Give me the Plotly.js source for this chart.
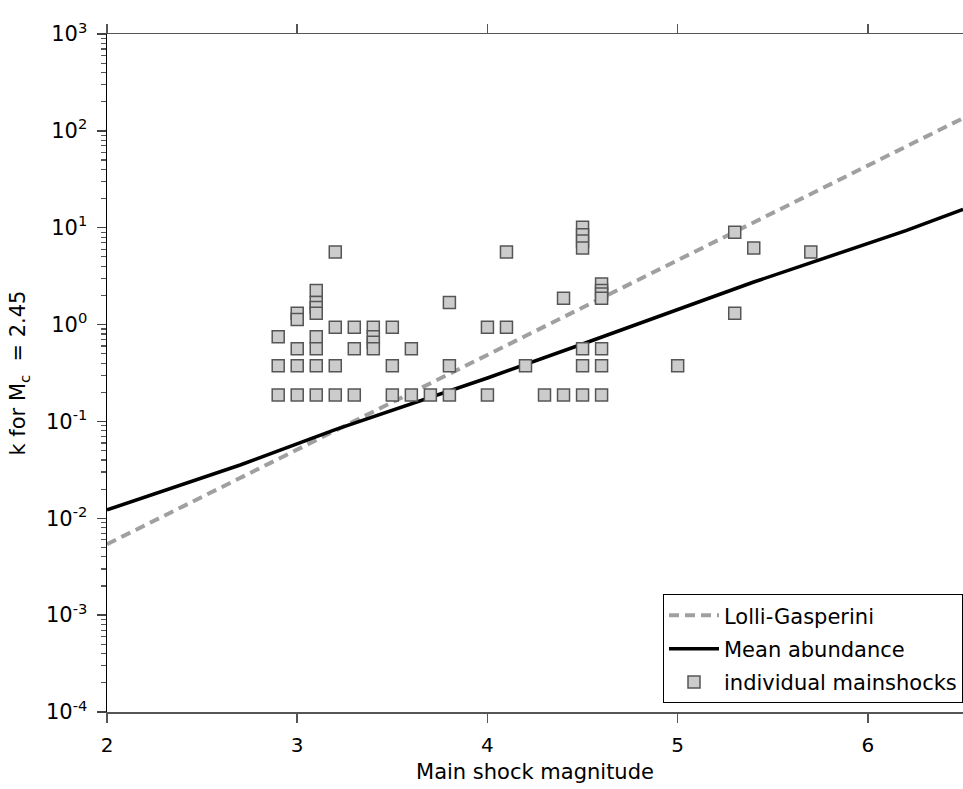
<!DOCTYPE html>
<html>
<head>
<meta charset="utf-8">
<script src="https://cdn.plot.ly/plotly-3.0.1.min.js"></script>
<style>
  html, body { margin: 0; padding: 0; background: #ffffff; }
  #chart { width: 963px; height: 789px; }
</style>
</head>
<body>
<div id="chart"></div>
<script>
// ---- Data ----
// Lolli-Gasperini relation (straight line in log k)
const lolliM = [2.0, 6.5];
const lolliK = [0.0054, 135];

// Mean abundance curve
const meanM = [2.0, 2.7, 3.2, 3.55, 4.0, 4.5, 5.0, 5.4, 6.2, 6.5];
const meanK = [0.0122, 0.0355, 0.0822, 0.141, 0.281, 0.63, 1.43, 2.75, 9.33, 15.5];

// Individual mainshocks (magnitude, k)
const shockM = [
  2.9, 2.9, 2.9,
  3.0, 3.0, 3.0, 3.0, 3.0,
  3.1, 3.1, 3.1, 3.1, 3.1, 3.1, 3.1, 3.1,
  3.2, 3.2, 3.2, 3.2,
  3.3, 3.3, 3.3,
  3.4, 3.4, 3.4, 3.4,
  3.5, 3.5, 3.5,
  3.6, 3.6,
  3.7,
  3.8, 3.8, 3.8,
  4.0, 4.0,
  4.1, 4.1,
  4.2,
  4.3,
  4.4, 4.4,
  4.5, 4.5, 4.5, 4.5, 4.5, 4.5, 4.5,
  4.6, 4.6, 4.6, 4.6, 4.6, 4.6, 4.6,
  5.0,
  5.3, 5.3,
  5.4,
  5.7
];
const shockK = [
  0.75, 0.375, 0.1875,
  1.3125, 1.125, 0.5625, 0.375, 0.1875,
  2.25, 1.6875, 1.5, 1.3125, 0.75, 0.5625, 0.375, 0.1875,
  5.625, 0.9375, 0.375, 0.1875,
  0.9375, 0.5625, 0.1875,
  0.9375, 0.75, 0.65625, 0.5625,
  0.9375, 0.375, 0.1875,
  0.5625, 0.1875,
  0.1875,
  1.6875, 0.375, 0.1875,
  0.9375, 0.1875,
  5.625, 0.9375,
  0.375,
  0.1875,
  1.875, 0.1875,
  10.125, 8.4375, 7.3125, 6.1875, 0.5625, 0.375, 0.1875,
  2.625, 2.25, 2.0625, 1.875, 0.5625, 0.375, 0.1875,
  0.375,
  9.0, 1.3125,
  6.1875,
  5.625
];

// Axis ticks
const xTicks = [2, 3, 4, 5, 6];
const yTickVals = [1e-4, 1e-3, 1e-2, 1e-1, 1e0, 1e1, 1e2, 1e3];
const yTickText = ['10<sup>-4</sup>', '10<sup>-3</sup>', '10<sup>-2</sup>', '10<sup>-1</sup>',
                   '10<sup>0</sup>', '10<sup>1</sup>', '10<sup>2</sup>', '10<sup>3</sup>'];

// minor tick positions (2..9 within each decade)
const yMinor = [];
for (let d = -4; d < 3; d++) {
  for (let m = 2; m <= 9; m++) yMinor.push(m * Math.pow(10, d));
}

const FONT = '"DejaVu Sans", Verdana, sans-serif';

const traces = [
  {
    x: lolliM, y: lolliK, mode: 'lines', name: 'Lolli-Gasperini', legendgroup: 'a',
    line: { color: '#a0a0a0', width: 4, dash: '10px,6px' }
  },
  {
    x: meanM, y: meanK, mode: 'lines', name: 'Mean abundance', legendgroup: 'b',
    line: { color: '#000000', width: 3.5 }
  },
  {
    x: shockM, y: shockK, mode: 'markers', name: 'individual mainshocks', legendgroup: 'c',
    marker: { symbol: 'square', size: 12, color: '#cccccc',
              line: { color: '#555555', width: 1.5 } }
  }
];

const layout = {
  width: 963, height: 789,
  margin: { l: 107, r: 0, t: 34, b: 77 },
  paper_bgcolor: '#ffffff', plot_bgcolor: '#ffffff',
  font: { family: FONT, size: 20, color: '#000000' },
  showlegend: true,
  legend: {
    x: 1, xanchor: 'right', y: 0.013, yanchor: 'bottom',
    bgcolor: '#ffffff', bordercolor: '#000000', borderwidth: 1,
    font: { family: FONT, size: 21, color: '#000000' },
    tracegroupgap: 3, itemwidth: 50
  },
  xaxis: {
    range: [2, 6.5], tickvals: xTicks,
    showgrid: false, zeroline: false,
    showline: true, linecolor: '#555555', linewidth: 1.5, mirror: 'ticks',
    ticks: 'outside', ticklen: 9, tickwidth: 1.5, tickcolor: '#555555',
    ticklabelstandoff: 5,
    tickfont: { family: FONT, size: 20, color: '#000000' },
    title: { text: 'Main shock magnitude', font: { family: FONT, size: 21, color: '#000000' }, standoff: 9 }
  },
  yaxis: {
    type: 'log', range: [-4, 3],
    tickvals: yTickVals, ticktext: yTickText,
    showgrid: false, zeroline: false,
    showline: true, linecolor: '#000000', linewidth: 1.5,
    ticks: 'outside', ticklen: 9, tickwidth: 1.5, tickcolor: '#444444',
    ticklabelstandoff: 5,
    minor: { tickvals: yMinor, ticks: 'outside', ticklen: 5, tickwidth: 1.2, tickcolor: '#555555', showgrid: false },
    tickfont: { family: FONT, size: 21, color: '#000000' },
    title: { text: 'k for M<sub>c</sub>\u00a0 = 2.45', font: { family: FONT, size: 21, color: '#000000' }, standoff: 14 }
  }
};

Plotly.newPlot('chart', traces, layout, { displayModeBar: false, staticPlot: true });
</script>
</body>
</html>
